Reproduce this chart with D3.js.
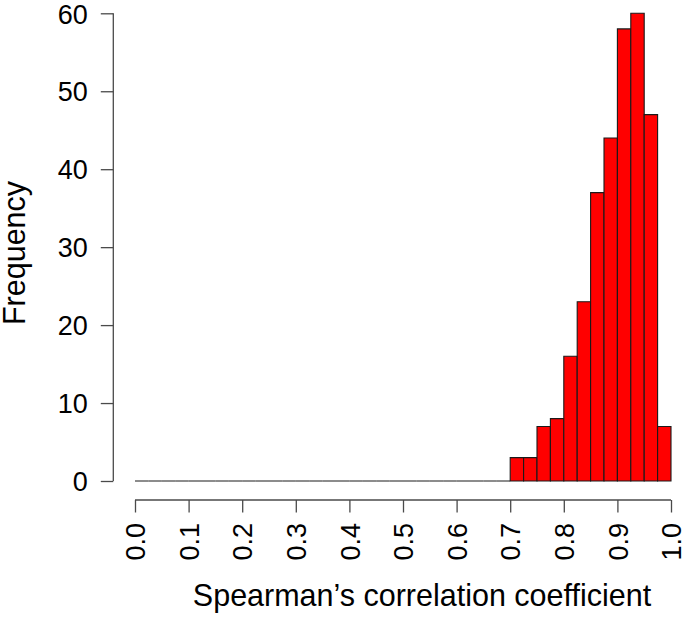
<!DOCTYPE html>
<html>
<head>
<meta charset="utf-8">
<script src="https://cdn.jsdelivr.net/npm/d3@7"></script>
<style>
  html, body { margin: 0; padding: 0; background: #fff; }
  svg { display: block; font-family: "Liberation Sans", Arial, Helvetica, sans-serif; }
</style>
</head>
<body>
<svg id="chart" width="685" height="617"></svg>
<script>
// ---- data ----
const binStart = 0.0;
const binWidth = 0.025;
// 40 bins covering 0.0 – 1.0
const counts = [
  0, 0, 0, 0, 0, 0, 0, 0, 0, 0,
  0, 0, 0, 0, 0, 0, 0, 0, 0, 0,
  0, 0, 0, 0, 0, 0, 0, 0,
  3, 3, 7, 8, 16, 23, 37, 44, 58, 60, 47, 7
];
const xTicks = [0.0, 0.1, 0.2, 0.3, 0.4, 0.5, 0.6, 0.7, 0.8, 0.9, 1.0];
const yTicks = [0, 10, 20, 30, 40, 50, 60];
const xLabel = "Spearman\u2019s correlation coefficient";
const yLabel = "Frequency";

// ---- layout ----
const svg = d3.select("#chart");
const x = d3.scaleLinear().domain([0, 1]).range([135, 671]);
const y = d3.scaleLinear().domain([0, 60]).range([481, 13.3]);

const bins = counts.map((c, i) => ({
  x0: binStart + i * binWidth,
  x1: binStart + (i + 1) * binWidth,
  n: c
}));

// bars (drawn as closed paths so zero-height bins still show their border line)
svg.append("g").selectAll("path").data(bins).join("path")
  .attr("d", d => {
    const a = x(d.x0), b = x(d.x1), t = y(d.n), z = y(0);
    return `M${a},${z}V${t}H${b}V${z}Z`;
  })
  .attr("fill", "#ff0000")
  .attr("stroke", "#1a1a1a")
  .attr("stroke-width", 1.1);

const axisColor = "#4a4a4a";

// y axis
const gy = svg.append("g").attr("transform", "translate(113.3,0)");
gy.call(d3.axisLeft(y).tickValues(yTicks).tickSize(12.5).tickPadding(13).tickFormat(d3.format("d")));
gy.select(".domain").attr("d", `M0,${y(0)}V${y(60)}`).attr("stroke", axisColor).attr("stroke-width", 1.3);
gy.selectAll(".tick line").attr("stroke", axisColor).attr("stroke-width", 1.3);
gy.selectAll(".tick text")
  .attr("font-size", 27)
  .attr("fill", "#000")
  .attr("font-family", "Liberation Sans, Arial, sans-serif")
  .attr("dy", "0.36em");

// x axis
const gx = svg.append("g").attr("transform", "translate(0,500)");
gx.call(d3.axisBottom(x).tickValues(xTicks).tickSize(12.5).tickFormat(d3.format(".1f")));
gx.select(".domain").attr("d", `M${x(0)},0H${x(1)}`).attr("stroke", axisColor).attr("stroke-width", 1.3);
gx.selectAll(".tick line").attr("stroke", axisColor).attr("stroke-width", 1.3);
gx.selectAll(".tick text")
  .attr("font-size", 27)
  .attr("fill", "#000")
  .attr("font-family", "Liberation Sans, Arial, sans-serif")
  .attr("text-anchor", "end")
  .attr("transform", "rotate(-90)")
  .attr("x", -23)
  .attr("y", 0)
  .attr("dy", "0.36em");

// axis titles
svg.append("text")
  .attr("x", 422).attr("y", 606)
  .attr("text-anchor", "middle")
  .attr("font-size", 30.5)
  .attr("fill", "#000")
  .text(xLabel);

svg.append("text")
  .attr("transform", "translate(25,253) rotate(-90)")
  .attr("text-anchor", "middle")
  .attr("font-size", 30.5)
  .attr("fill", "#000")
  .text(yLabel);
</script>
</body>
</html>
